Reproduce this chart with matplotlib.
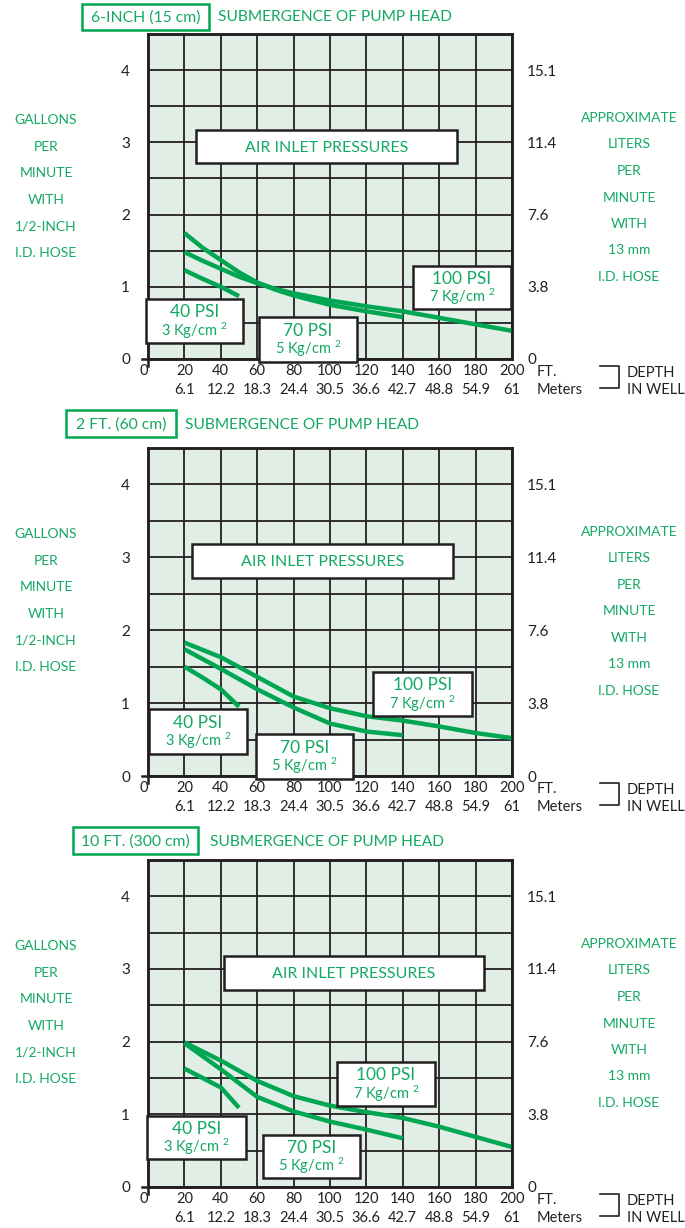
import numpy as np
import matplotlib.pyplot as plt
from matplotlib.patches import Rectangle
from matplotlib.lines import Line2D

plt.rcParams.update({
    'font.family': ['Lato', 'DejaVu Sans'],
    'mathtext.default': 'regular',
})

GREEN = '#00a651'
TEXT_GREEN = '#13a863'
INK = '#231f20'
BG = '#e1eee6'

W, H = 685, 1228

# shared axes
depth_ft = [0, 20, 40, 60, 80, 100, 120, 140, 160, 180, 200]
depth_m = ['', '6.1', '12.2', '18.3', '24.4', '30.5', '36.6', '42.7', '48.8', '54.9', '61']
gpm_ticks = [0, 1, 2, 3, 4]
lpm_labels = ['0', '3.8', '7.6', '11.4', '15.1']

# 6-inch (15 cm) submergence
sub6_40_ft = [20, 30, 40, 50]
sub6_40_gpm = [1.23, 1.11, 1.00, 0.87]
sub6_70_ft = [20, 30, 40, 50, 60, 70, 80, 100, 120, 140]
sub6_70_gpm = [1.745, 1.54, 1.37, 1.20, 1.06, 0.96, 0.88, 0.75, 0.66, 0.58]
sub6_100_ft = [20, 30, 40, 50, 60, 70, 80, 100, 120, 140, 160, 180, 200]
sub6_100_gpm = [1.48, 1.36, 1.25, 1.14, 1.05, 0.97, 0.91, 0.81, 0.73, 0.66, 0.57, 0.48, 0.39]

# 2 ft (60 cm) submergence
sub2_40_ft = [20, 30, 40, 50]
sub2_40_gpm = [1.50, 1.35, 1.19, 0.95]
sub2_70_ft = [20, 40, 60, 80, 100, 120, 140]
sub2_70_gpm = [1.74, 1.47, 1.19, 0.94, 0.72, 0.61, 0.56]
sub2_100_ft = [20, 40, 60, 80, 100, 120, 140, 160, 180, 200]
sub2_100_gpm = [1.83, 1.63, 1.36, 1.09, 0.93, 0.82, 0.76, 0.68, 0.59, 0.52]

# 10 ft (300 cm) submergence
sub10_40_ft = [20, 30, 40, 50]
sub10_40_gpm = [1.63, 1.50, 1.37, 1.09]
sub10_70_ft = [20, 40, 60, 80, 100, 120, 140]
sub10_70_gpm = [1.98, 1.62, 1.24, 1.04, 0.90, 0.79, 0.67]
sub10_100_ft = [20, 40, 60, 80, 100, 120, 140, 160, 180, 200]
sub10_100_gpm = [1.99, 1.74, 1.46, 1.25, 1.12, 1.03, 0.95, 0.83, 0.69, 0.55]

left_words = ['GALLONS', 'PER', 'MINUTE', 'WITH', '1/2-INCH', 'I.D. HOSE']
right_words = ['APPROXIMATE', 'LITERS', 'PER', 'MINUTE', 'WITH', '13 mm', 'I.D. HOSE']
psi_names = ['40 PSI', '70 PSI', '100 PSI']
kg_names = ['3 Kg/cm $^{2}$', '5 Kg/cm $^{2}$', '7 Kg/cm $^{2}$']

# layout in pixels (top-left origin)
panels = [
    dict(title='6-INCH (15 cm)', top=34, bottom=359,
         head_box=(82, 4, 209, 30), head_x=218, head_y=16,
         air_box=(196, 130, 457, 163),
         psi_boxes=[(146, 299, 243, 343), (259, 317, 357, 362), (413, 266, 511, 309)],
         series=[(sub6_40_ft, sub6_40_gpm), (sub6_70_ft, sub6_70_gpm), (sub6_100_ft, sub6_100_gpm)]),
    dict(title='2 FT. (60 cm)', top=448, bottom=776,
         head_box=(66, 410, 176, 437), head_x=185, head_y=424,
         air_box=(192, 544, 453, 578),
         psi_boxes=[(149, 709, 247, 754), (256, 734, 353, 779), (373, 672, 472, 716)],
         series=[(sub2_40_ft, sub2_40_gpm), (sub2_70_ft, sub2_70_gpm), (sub2_100_ft, sub2_100_gpm)]),
    dict(title='10 FT. (300 cm)', top=860, bottom=1187,
         head_box=(73, 827, 198, 854), head_x=210, head_y=841,
         air_box=(224, 956, 484, 990),
         psi_boxes=[(147, 1116, 246, 1159), (263, 1135, 360, 1178), (337, 1062, 435, 1106)],
         series=[(sub10_40_ft, sub10_40_gpm), (sub10_70_ft, sub10_70_gpm), (sub10_100_ft, sub10_100_gpm)]),
]

PLOT_L, PLOT_R = 148, 512


def fx(px):
    return px / W


def fy(py):
    return 1 - py / H


def add_box(fig, b, ec, lw):
    x0, y0, x1, y1 = b
    fig.add_artist(Rectangle((fx(x0), fy(y1)), fx(x1) - fx(x0), fy(y0) - fy(y1),
                             transform=fig.transFigure, fc='white', ec=ec, lw=lw, zorder=5))


fig = plt.figure(figsize=(W / 100, H / 100), dpi=100)

for p in panels:
    top, bot = p['top'], p['bottom']
    ax = fig.add_axes([fx(PLOT_L), fy(bot), fx(PLOT_R) - fx(PLOT_L), (bot - top) / H])
    ax.set_facecolor(BG)
    ax.set_xlim(0, 200)
    ax.set_ylim(0, 4.5)
    ax.set_xticks(depth_ft)
    ax.set_xticklabels(['0'] + [f'{f}\n{m}' for f, m in zip(depth_ft[1:], depth_m[1:])])
    for lab in ax.get_xticklabels():
        lab.set_linespacing(1.45)
    ax.get_xticklabels()[0].set_horizontalalignment('right')
    ax.set_yticks(gpm_ticks)
    ax.set_yticks(np.arange(0.5, 4.5, 1.0), minor=True)
    ax.grid(which='both', color=INK, lw=1.3)
    ax.set_axisbelow(True)
    ax.tick_params(which='both', length=0, labelsize=11, colors=INK)
    ax.tick_params(axis='y', pad=13)
    ax.tick_params(axis='x', pad=3.5, labelsize=10.5)
    for s in ax.spines.values():
        s.set_color(INK)
        s.set_linewidth(1.8)

    ax2 = ax.twinx()
    ax2.set_ylim(0, 4.5)
    ax2.set_yticks(gpm_ticks)
    ax2.set_yticklabels(lpm_labels)
    ax2.tick_params(length=0, labelsize=11, colors=INK, pad=11)
    for s in ax2.spines.values():
        s.set_color(INK)
        s.set_linewidth(1.8)

    for ft, gpm in p['series']:
        ax.plot(ft, gpm, color=GREEN, lw=3.2, solid_capstyle='butt', zorder=3)

    # little axis extension and tick at origin
    ax.plot([-0.017, 0], [0, 0], transform=ax.transAxes, color=INK, lw=1.8, clip_on=False)
    ax.plot([0, 0], [0, -0.022], transform=ax.transAxes, color=INK, lw=1.8, clip_on=False)

    # header
    add_box(fig, p['head_box'], GREEN, 1.8)
    hb = p['head_box']
    fig.text(fx((hb[0] + hb[2]) / 2), fy((hb[1] + hb[3]) / 2 + 1), p['title'], ha='center', va='center',
             color=TEXT_GREEN, fontsize=11.3, zorder=6)
    fig.text(fx(p['head_x']), fy(p['head_y'] + 1), 'SUBMERGENCE OF PUMP HEAD', ha='left', va='center',
             color=TEXT_GREEN, fontsize=11.2)

    # air inlet box
    add_box(fig, p['air_box'], INK, 1.8)
    ab = p['air_box']
    fig.text(fx((ab[0] + ab[2]) / 2), fy((ab[1] + ab[3]) / 2 + 1), 'AIR INLET PRESSURES', ha='center',
             va='center', color=TEXT_GREEN, fontsize=11.5, zorder=6)

    # psi boxes
    for b, n1, n2 in zip(p['psi_boxes'], psi_names, kg_names):
        add_box(fig, b, INK, 1.8)
        cx = (b[0] + b[2]) / 2
        h = b[3] - b[1]
        fig.text(fx(cx), fy(b[1] + 0.42 * h), n1, ha='center', va='baseline', color=TEXT_GREEN,
                 fontsize=12.5, zorder=6)
        fig.text(fx(cx), fy(b[1] + 0.83 * h), n2, ha='center', va='baseline', color=TEXT_GREEN,
                 fontsize=10.5, zorder=6)

    # side captions
    for i, w in enumerate(left_words):
        fig.text(fx(46), fy(top + 86 + i * 26.6), w, ha='center', va='center', color=TEXT_GREEN, fontsize=10)
    for i, w in enumerate(right_words):
        fig.text(fx(629), fy(top + 84 + i * 26.5), w, ha='center', va='center', color=TEXT_GREEN, fontsize=10)

    # depth legend
    fig.text(fx(537), fy(bot + 13), 'FT.', ha='left', va='center', color=INK, fontsize=10.5)
    fig.text(fx(537), fy(bot + 31), 'Meters', ha='left', va='center', color=INK, fontsize=10.5)
    fig.text(fx(627), fy(bot + 14), 'DEPTH', ha='left', va='center', color=INK, fontsize=10.5)
    fig.text(fx(627), fy(bot + 31), 'IN WELL', ha='left', va='center', color=INK, fontsize=10.5)
    fig.add_artist(Line2D([fx(600), fx(619), fx(619), fx(600)],
                          [fy(bot + 7), fy(bot + 7), fy(bot + 29), fy(bot + 29)],
                          transform=fig.transFigure, color=INK, lw=1.2))

fig.savefig('out.png', dpi=100, facecolor='white')
